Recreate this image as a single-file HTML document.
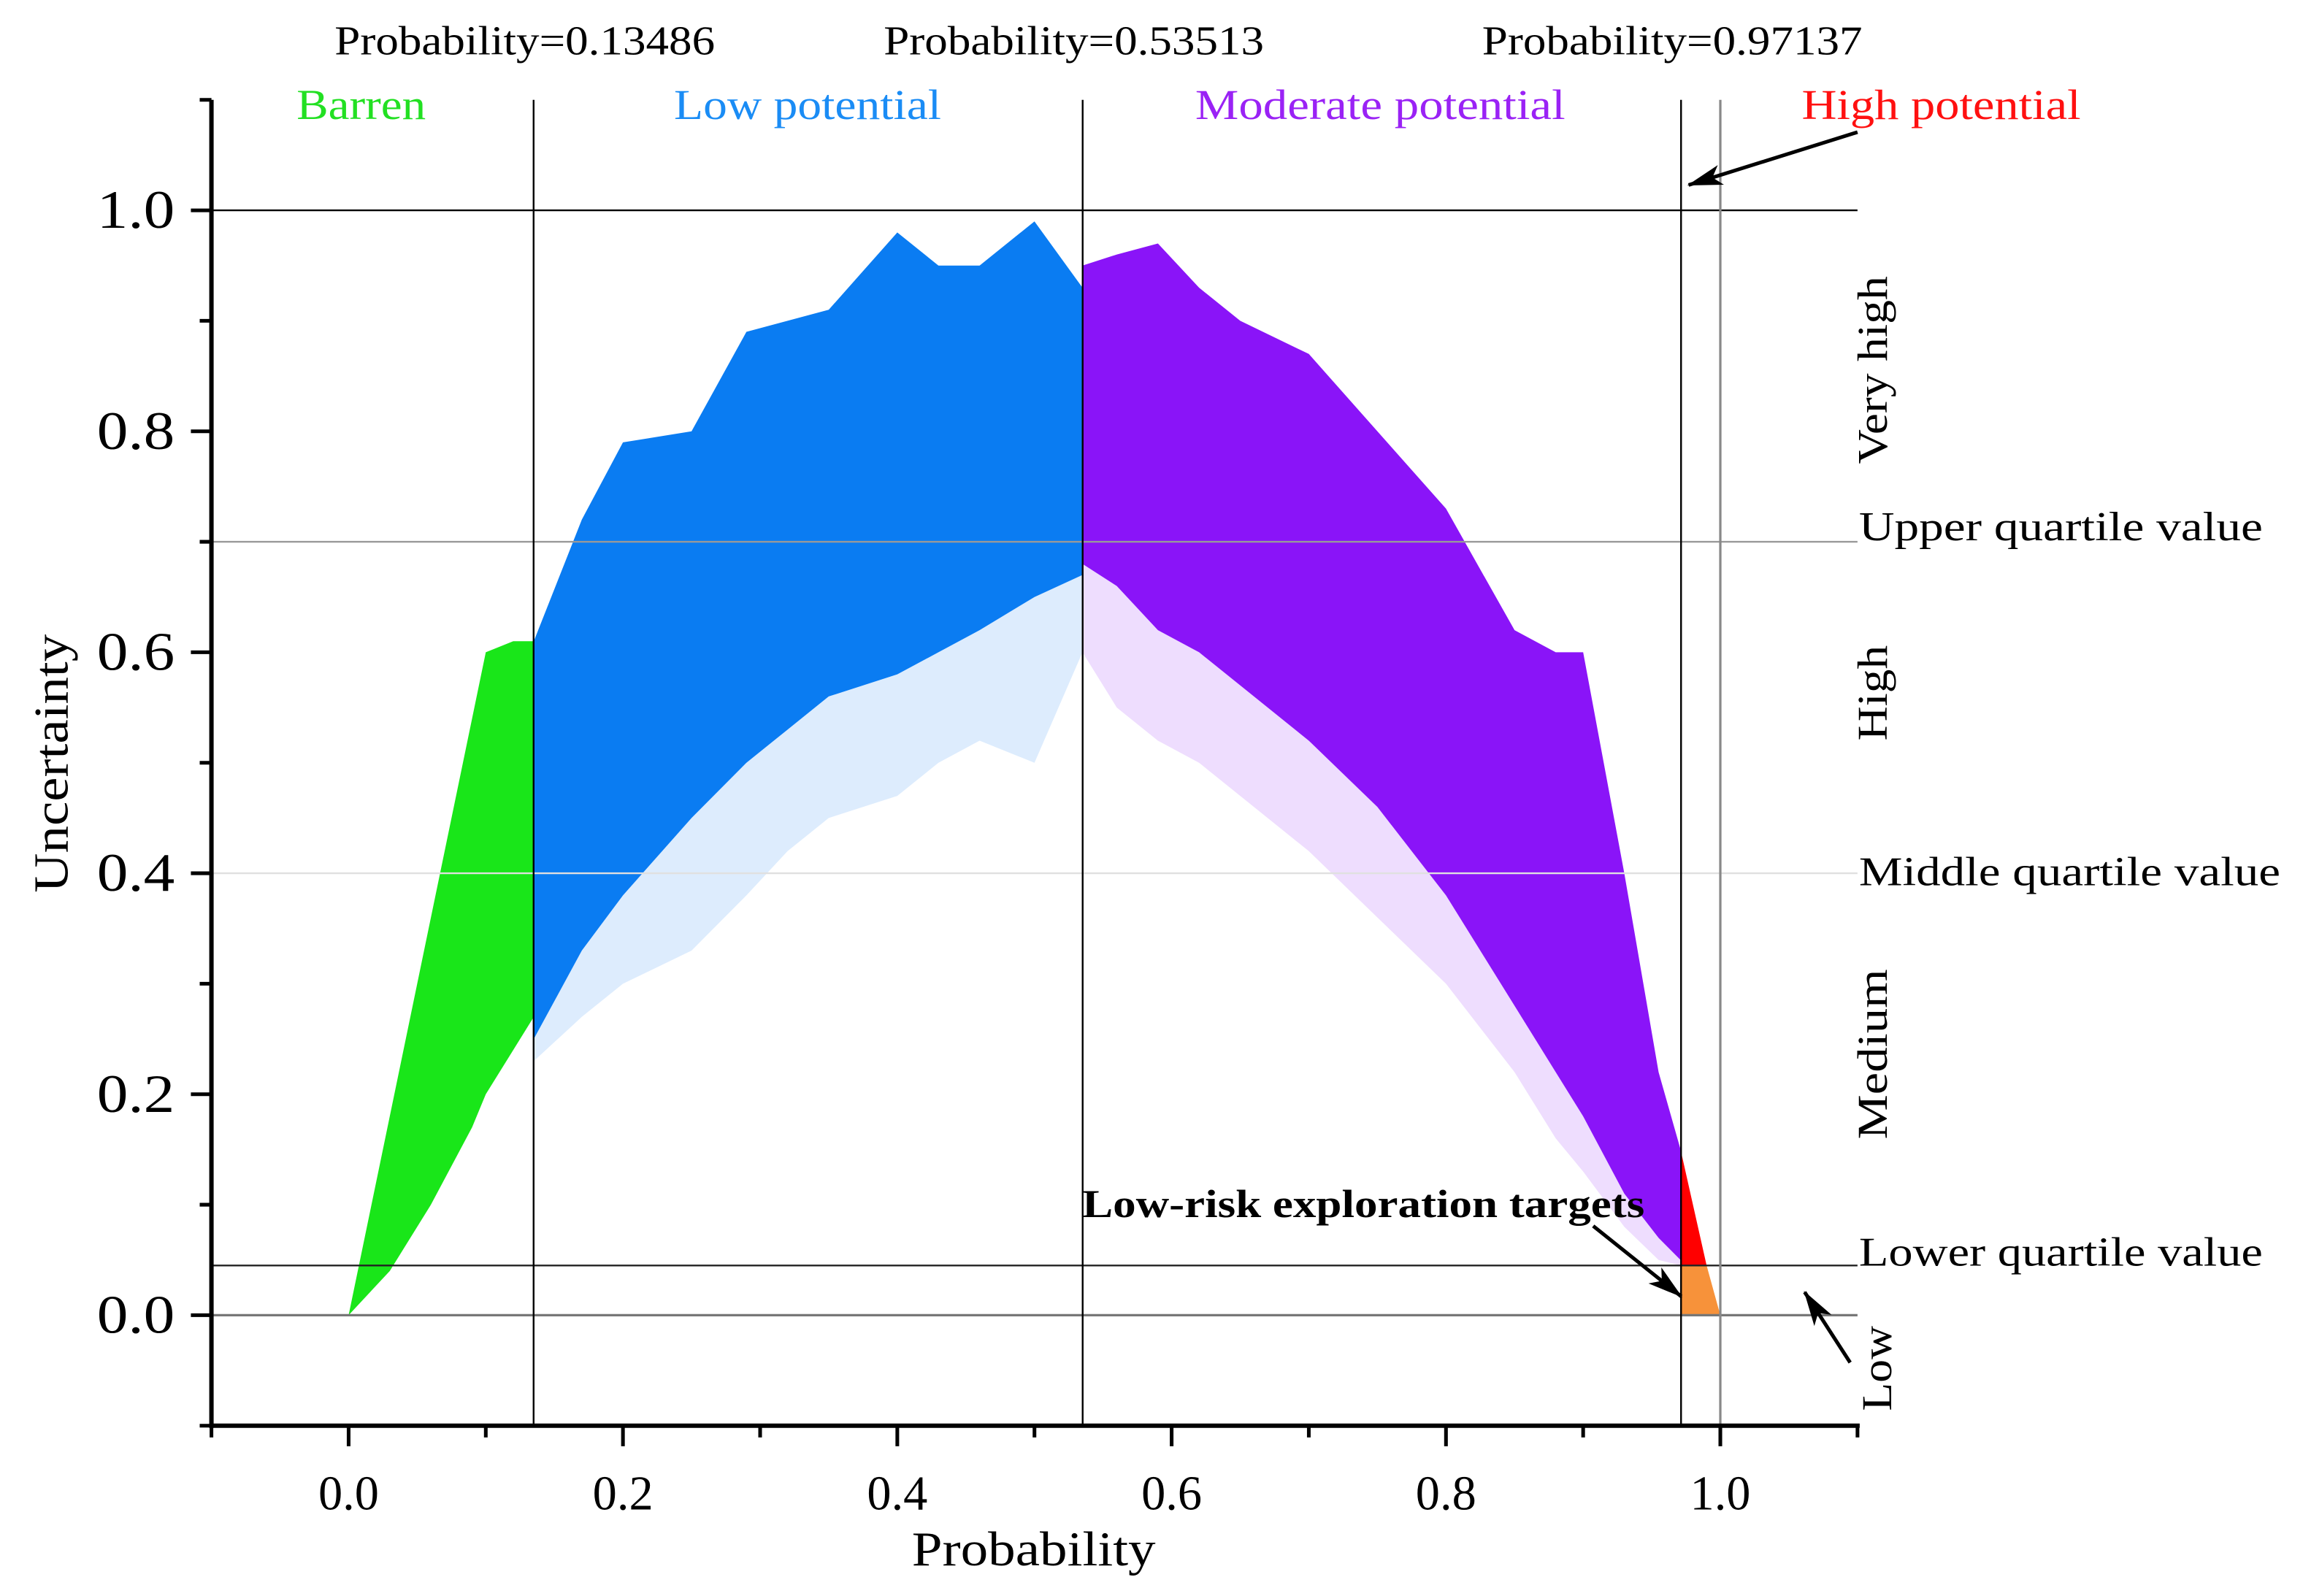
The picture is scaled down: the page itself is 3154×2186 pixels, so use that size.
<!DOCTYPE html>
<html><head><meta charset="utf-8"><style>
html,body{margin:0;padding:0;background:#fff;}
svg{display:block;}
text{font-family:"Liberation Serif",serif;}
</style></head><body>
<svg id="chart" width="3154" height="2186" viewBox="0 0 1568.4 1087" preserveAspectRatio="none" xmlns="http://www.w3.org/2000/svg">
<g id="marks"></g>
<g id="axes"></g>
</svg>
<script>
// ----- data -----
const xTicks = [0.0, 0.2, 0.4, 0.6, 0.8, 1.0];
const yTicks = [0.0, 0.2, 0.4, 0.6, 0.8, 1.0];
const thresholds = [0.13486, 0.53513, 0.97137];
const thresholdLabels = ["Probability=0.13486", "Probability=0.53513", "Probability=0.97137"];
const quartiles = [0.7, 0.4, 0.045];
const greenX = [0, 0.03, 0.06, 0.09, 0.1, 0.12, 0.135];
const greenUpper = [0, 0.18, 0.36, 0.54, 0.6, 0.61, 0.61];
const greenLower = [0, 0.04, 0.1, 0.17, 0.2, 0.24, 0.27];
const blueX = [0.135, 0.17, 0.2, 0.25, 0.29, 0.32, 0.35, 0.4, 0.43, 0.46, 0.5, 0.535];
const blueUpper = [0.61, 0.72, 0.79, 0.8, 0.89, 0.9, 0.91, 0.98, 0.95, 0.95, 0.99, 0.93];
const blueLower = [0.25, 0.33, 0.38, 0.45, 0.5, 0.53, 0.56, 0.58, 0.6, 0.62, 0.65, 0.67];
const blueSparse = [0.23, 0.27, 0.3, 0.33, 0.38, 0.42, 0.45, 0.47, 0.5, 0.52, 0.5, 0.6];
const purpleX = [0.535, 0.56, 0.59, 0.62, 0.65, 0.7, 0.75, 0.8, 0.85, 0.88, 0.9, 0.93, 0.955, 0.971];
const purpleUpper = [0.95, 0.96, 0.97, 0.93, 0.9, 0.87, 0.8, 0.73, 0.62, 0.6, 0.6, 0.4, 0.22, 0.15];
const purpleLower = [0.68, 0.66, 0.62, 0.6, 0.57, 0.52, 0.46, 0.38, 0.28, 0.22, 0.18, 0.11, 0.07, 0.05];
const purpleSparse = [0.6, 0.55, 0.52, 0.5, 0.47, 0.42, 0.36, 0.3, 0.22, 0.16, 0.13, 0.08, 0.05, 0.045];
const redX = [0.971, 0.99, 0.971];
const redY = [0.15, 0.045, 0.045];
const orangeX = [0.971, 0.99, 1.0, 0.971];
const orangeY = [0.045, 0.045, 0.0, 0.0];

// ----- axes -----
const L = 144, R = 1265, T = 68, B = 971;
const X = v => L + (v + 0.1) / 1.2 * (R - L);
const Y = v => B - (v + 0.1) / 1.2 * (B - T);
const NS = "http://www.w3.org/2000/svg";
const marks = document.getElementById('marks');
const axes = document.getElementById('axes');
function mk(tag, attrs, parent, txt) {
  const e = document.createElementNS(NS, tag);
  for (const k in attrs) e.setAttribute(k, attrs[k]);
  if (txt !== undefined) e.textContent = txt;
  parent.appendChild(e);
  return e;
}
function band(xs, up, lo) {
  const pts = xs.map((x, i) => X(x) + ',' + Y(up[i]));
  for (let i = xs.length - 1; i >= 0; i--) pts.push(X(xs[i]) + ',' + Y(lo[i]));
  return pts.join(' ');
}
function poly(xs, ys) { return xs.map((x, i) => X(x) + ',' + Y(ys[i])).join(' '); }

let p;
p = mk('polygon', {points: band(greenX, greenUpper, greenLower), fill: '#19e619'}, marks);


p = mk('polygon', {points: band(blueX, blueLower, blueSparse), fill: '#1e82f0', opacity: 0.15}, marks);


p = mk('polygon', {points: band(blueX, blueUpper, blueLower), fill: '#0a7cf2'}, marks);


p = mk('polygon', {points: band(purpleX, purpleLower, purpleSparse), fill: '#8a1cf5', opacity: 0.15}, marks);


p = mk('polygon', {points: band(purpleX, purpleUpper, purpleLower), fill: '#8a14f8'}, marks);


p = mk('polygon', {points: poly(redX, redY), fill: '#ff0000'}, marks);


p = mk('polygon', {points: poly(orangeX, orangeY), fill: '#f7923a'}, marks);



let l;
l = mk('line', {x1: L, x2: R, y1: Y(1), y2: Y(1), stroke: '#000', 'stroke-width': 1.2}, axes);


l = mk('line', {x1: L, x2: R, y1: Y(0), y2: Y(0), stroke: '#777', 'stroke-width': 1.6}, axes);


const qColors = ['#999', '#e0e0e0', '#222'];
const qNames = ['upper-quartile-line', 'middle-quartile-line', 'lower-quartile-line'];
quartiles.forEach((q, i) => {
  const e = mk('line', {x1: L, x2: R, y1: Y(q), y2: Y(q), stroke: qColors[i], 'stroke-width': 1.2}, axes);
  
  
});
thresholds.forEach((t, i) => {
  const e = mk('line', {x1: X(t), x2: X(t), y1: T, y2: B, stroke: '#000', 'stroke-width': 1.2}, axes);
  
  
  const tx = mk('text', {x: X(t) - 6, y: 37, 'font-size': 28, 'text-anchor': 'middle', textLength: 259, lengthAdjust: 'spacingAndGlyphs'}, axes, thresholdLabels[i]);
  
  
});
l = mk('line', {x1: X(1), x2: X(1), y1: T, y2: B, stroke: '#888', 'stroke-width': 1.6}, axes);



l = mk('line', {x1: L, x2: L, y1: T, y2: B + 1.5, stroke: '#000', 'stroke-width': 3}, axes);


l = mk('line', {x1: L - 1.5, x2: R + 1.5, y1: B, y2: B, stroke: '#000', 'stroke-width': 3}, axes);


for (let i = -1; i <= 11; i++) {
  const v = i / 10, major = (i % 2 === 0);
  const e = mk('line', {x1: X(v), x2: X(v), y1: B, y2: B + (major ? 14 : 8), stroke: '#000', 'stroke-width': 2.5}, axes);
  
  
  const f = mk('line', {x1: L - (major ? 14 : 8), x2: L, y1: Y(v), y2: Y(v), stroke: '#000', 'stroke-width': 2.5}, axes);
  
  
}
xTicks.forEach(v => {
  const e = mk('text', {x: X(v), y: 1028, 'font-size': 33, 'text-anchor': 'middle'}, axes, v.toFixed(1));
  
  
});
yTicks.forEach(v => {
  const e = mk('text', {x: 119, y: Y(v) + 12, 'font-size': 37, 'text-anchor': 'end', textLength: 53, lengthAdjust: 'spacingAndGlyphs'}, axes, v.toFixed(1));
  
  
});
</script>
<svg style="position:absolute;left:0;top:0" width="3154" height="2186" viewBox="0 0 1568.4 1087" preserveAspectRatio="none" xmlns="http://www.w3.org/2000/svg">
<defs><marker id="ah2" markerWidth="24" markerHeight="14" refX="23" refY="7" orient="auto" markerUnits="userSpaceOnUse"><path d="M0,0 L24,7 L0,14 L6,7 Z" fill="#000"/></marker></defs>
<text x="704" y="1066" font-size="33" text-anchor="middle" textLength="166" lengthAdjust="spacingAndGlyphs">Probability</text>
<text transform="translate(46,520) rotate(-90)" font-size="33" text-anchor="middle" textLength="176" lengthAdjust="spacingAndGlyphs">Uncertainty</text>
<text x="246" y="81" font-size="29" fill="#22e022" text-anchor="middle" textLength="88" lengthAdjust="spacingAndGlyphs">Barren</text>
<text x="550" y="81" font-size="29" fill="#1a8cf5" text-anchor="middle" textLength="182" lengthAdjust="spacingAndGlyphs">Low potential</text>
<text x="940" y="81" font-size="29" fill="#9a22f5" text-anchor="middle" textLength="252" lengthAdjust="spacingAndGlyphs">Moderate potential</text>
<text x="1322" y="81" font-size="29" fill="#ff1010" text-anchor="middle" textLength="190" lengthAdjust="spacingAndGlyphs">High potential</text>
<text x="1266" y="368" font-size="28" textLength="275" lengthAdjust="spacingAndGlyphs">Upper quartile value</text>
<text x="1266" y="603" font-size="28" textLength="287" lengthAdjust="spacingAndGlyphs">Middle quartile value</text>
<text x="1266" y="862" font-size="28" textLength="275" lengthAdjust="spacingAndGlyphs">Lower quartile value</text>
<text transform="translate(1285,252) rotate(-90)" font-size="29" text-anchor="middle" textLength="128" lengthAdjust="spacingAndGlyphs">Very high</text>
<text transform="translate(1285,472) rotate(-90)" font-size="29" text-anchor="middle" textLength="65" lengthAdjust="spacingAndGlyphs">High</text>
<text transform="translate(1285,718) rotate(-90)" font-size="29" text-anchor="middle" textLength="116" lengthAdjust="spacingAndGlyphs">Medium</text>
<text transform="translate(1288,932) rotate(-90)" font-size="29" text-anchor="middle" textLength="58" lengthAdjust="spacingAndGlyphs">Low</text>
<text x="737" y="829" font-size="27" font-weight="bold" textLength="383" lengthAdjust="spacingAndGlyphs">Low-risk exploration targets</text>
<line x1="1265" y1="90" x2="1150" y2="126" stroke="#000" stroke-width="2.5" marker-end="url(#ah2)"/>
<line x1="1085" y1="835" x2="1145" y2="883" stroke="#000" stroke-width="2.5" marker-end="url(#ah2)"/>
<line x1="1260" y1="928" x2="1229" y2="880" stroke="#000" stroke-width="2.5" marker-end="url(#ah2)"/>
</svg>
</body></html>
